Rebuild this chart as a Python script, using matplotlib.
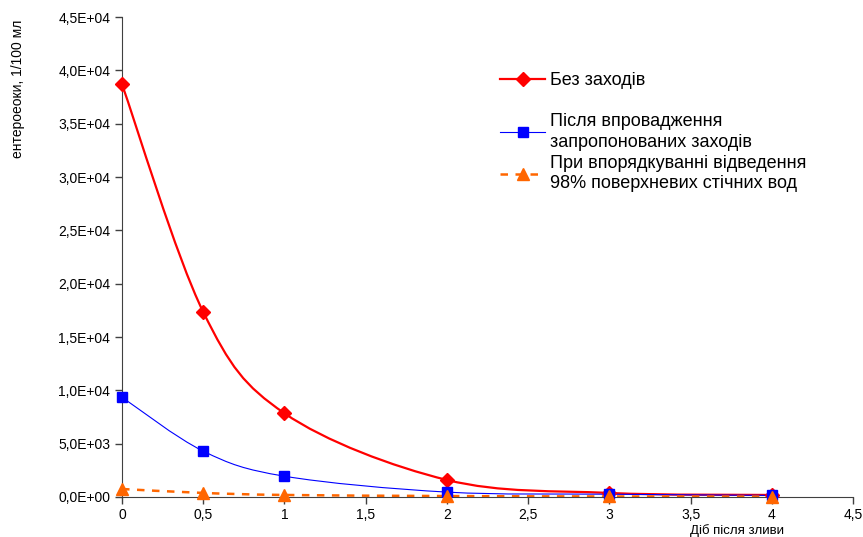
import matplotlib
matplotlib.use('Agg')
import matplotlib.pyplot as plt
from matplotlib.path import Path
from matplotlib.patches import PathPatch
from matplotlib.lines import Line2D
from matplotlib.ticker import FuncFormatter

plt.rcParams['font.family'] = ['Liberation Sans', 'DejaVu Sans']

# дані
days = [0, 0.5, 1, 2, 3, 4]
no_measures = [38700, 17350, 7850, 1600, 380, 190]
after_measures = [9350, 4300, 1950, 460, 260, 150]
drainage_98 = [750, 380, 190, 90, 50, 40]

labels = ['Без заходів',
          'Після впровадження\nзапропонованих заходів',
          'При впорядкуванні відведення\n98% поверхневих стічних вод']


def smooth_path(x, y):
    # згладжена лінія як у Excel (криві Безьє через точки)
    pts = list(zip(x, y))
    verts = [pts[0]]
    codes = [Path.MOVETO]
    for i in range(len(pts) - 1):
        p0 = pts[i - 1] if i > 0 else pts[i]
        p1 = pts[i]
        p2 = pts[i + 1]
        p3 = pts[i + 2] if i + 2 < len(pts) else pts[i + 1]
        c1 = (p1[0] + (p2[0] - p0[0]) / 6, p1[1] + (p2[1] - p0[1]) / 6)
        c2 = (p2[0] - (p3[0] - p1[0]) / 6, p2[1] - (p3[1] - p1[1]) / 6)
        verts += [c1, c2, p2]
        codes += [Path.CURVE4] * 3
    return Path(verts, codes)


fig = plt.figure(figsize=(8.63, 5.37), dpi=100)
ax = fig.add_axes([0.1414, 0.0745, 0.847, 0.8935])

styles = [
    dict(color='#FF0000', lw=1.6, ls='-', marker='D', ms=7),
    dict(color='#0000FF', lw=0.8, ls='-', marker='s', ms=6.5),
    dict(color='#FF6600', lw=1.8, ls=(0, (3, 3)), marker='^', ms=8),
]
series = [no_measures, after_measures, drainage_98]

handles = []
for vals, st in zip(series, styles):
    patch = PathPatch(smooth_path(days, vals), facecolor='none', edgecolor=st['color'],
                      lw=st['lw'], linestyle=st['ls'], zorder=2)
    ax.add_patch(patch)
    ax.plot(days, vals, ls='none', marker=st['marker'], ms=st['ms'],
            color=st['color'], zorder=3, clip_on=False)
    handles.append(Line2D([], [], color=st['color'], lw=st['lw'], ls=st['ls'],
                          marker=st['marker'], ms=st['ms']))

ax.set_xlim(0, 4.5)
ax.set_ylim(0, 45000)
ax.set_xticks([0, 0.5, 1, 1.5, 2, 2.5, 3, 3.5, 4, 4.5])
ax.set_yticks(range(0, 45001, 5000))


def fmt_x(v, pos):
    if float(v).is_integer():
        return str(int(v))
    return f'{v:g}'.replace('.', ',')


ax.xaxis.set_major_formatter(FuncFormatter(fmt_x))
ax.yaxis.set_major_formatter(FuncFormatter(lambda v, p: f'{v:.1E}'.replace('.', ',')))
ax.tick_params(labelsize=10, length=5, width=1, color='#404040')
ax.tick_params(axis='x', pad=3)
for s in ['top', 'right']:
    ax.spines[s].set_visible(False)
for s in ['left', 'bottom']:
    ax.spines[s].set_color('#404040')

# легенда: перший пункт окремо, бо відступ до другого більший
leg_kw = dict(loc='upper left', bbox_transform=fig.transFigure, frameon=False,
              fontsize=13, handlelength=2.5, handletextpad=0.25,
              borderpad=0, borderaxespad=0)
fig.legend(handles[:1], labels[:1], bbox_to_anchor=(500 / 863, 1 - 72 / 537),
           labelspacing=0, **leg_kw)
leg2 = fig.legend(handles[1:], labels[1:], bbox_to_anchor=(500 / 863, 1 - 113 / 537),
                  labelspacing=0.2, **leg_kw)
for t in leg2.get_texts():
    t.set_linespacing(1.3)

fig.text(0.021, 0.835, 'ентероеоки, 1/100 мл', rotation=90, ha='center', va='center', fontsize=10)
fig.text(0.854, 0.0, 'Діб після зливи', ha='center', va='bottom', fontsize=9.5)

fig.savefig('out.png', dpi=100)
